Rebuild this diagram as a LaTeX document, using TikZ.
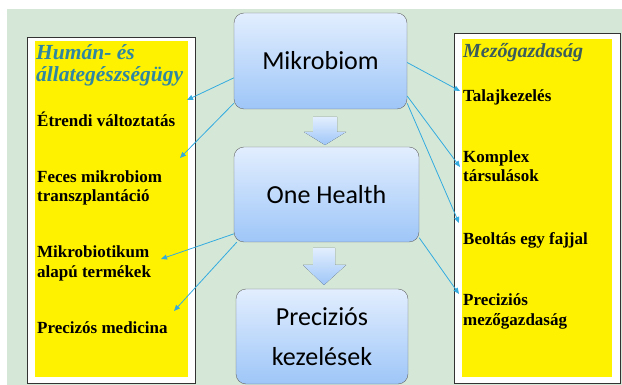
\documentclass[tikz,border=0pt]{standalone}
\usepackage{fontspec}
\setmainfont{Liberation Serif}
\newfontfamily\calfont{Carlito}
\usetikzlibrary{arrows.meta}

\definecolor{bggreen}{HTML}{D5E8D8}
\definecolor{boxtop}{HTML}{E2EEFE}
\definecolor{boxbot}{HTML}{9EC6F8}
\definecolor{linkblue}{HTML}{33ABDF}
\definecolor{titleleft}{HTML}{2F86A2}
\definecolor{titleright}{HTML}{3A5C5C}

\tikzset{
    mainbox/.style={draw=gray!80!black, rounded corners=10pt, top color=boxtop,
        bottom color=boxbot, align=center, inner sep=0pt,
        font=\calfont\fontsize{26}{40}\selectfont},
    link/.style={draw=linkblue, line width=0.8pt, -{Triangle[length=6pt,width=5pt]}},
    item/.style={anchor=base west, align=left, inner sep=0pt,
        font=\bfseries\fontsize{17}{19.5}\selectfont},
    heading/.style={anchor=base west, align=left, inner sep=0pt,
        font=\bfseries\itshape\fontsize{20}{22}\selectfont},
}

\begin{document}
\begin{tikzpicture}[x=1pt, y=-1pt]
    \useasboundingbox (0,0) rectangle (622,385);
    \fill[bggreen] (7,9) rectangle (622,385);

    % side panels
    \draw[black!80, fill=white] (27,37) rectangle (195,383);
    \fill[yellow] (35,41) rectangle (188,377);
    \draw[black!80, fill=white] (454,33) rectangle (620,383);
    \fill[yellow] (462,39) rectangle (612,377);

    % left panel texts (multi-line nodes sit on their last baseline)
    \node[heading, text=titleleft, font=\bfseries\itshape\fontsize{21.5}{22.5}\selectfont]
        (human) at (36,82) {Humán- és\\állategészségügy};
    \node[item] (etrend) at (37,127) {Étrendi változtatás};
    \node[item] (feces) at (37,202) {Feces mikrobiom\\transzplantáció};
    \node[item] (mikrobiot) at (37,277) {Mikrobiotikum\\alapú termékek};
    \node[item] (medicina) at (37,334) {Precizós medicina};

    % right panel texts
    \node[heading, text=titleright] (mezo) at (463,58) {Mezőgazdaság};
    \node[item] (talaj) at (463,102) {Talajkezelés};
    \node[item] (komplex) at (463,182) {Komplex\\társulások};
    \node[item] (beoltas) at (463,245) {Beoltás egy fajjal};
    \node[item] (precmezo) at (463,325) {Preciziós\\mezőgazdaság};

    % down arrows
    \fill[top color=boxtop, bottom color=boxbot] (313,117) -- (337,117) -- (337,132)
        -- (346,132) -- (325,145) -- (304,132) -- (313,132) -- cycle;
    \fill[top color=boxtop, bottom color=boxbot] (313,248) -- (335,248) -- (335,265)
        -- (346,265) -- (324,285) -- (303,265) -- (313,265) -- cycle;

    % main boxes
    \node[mainbox, minimum width=173pt, minimum height=96pt] (mikro) at (320.5,61) {Mikrobiom};
    \node[mainbox, minimum width=185pt, minimum height=95pt] (onehealth) at (326.5,194.5) {One Health};
    \node[mainbox, minimum width=172pt, minimum height=95pt] (precis) at (322,336.5) {Preciziós\\kezelések};

    % arrow ends
    \coordinate (l1) at (187,100);
    \coordinate (l2) at (180,158);
    \coordinate (l3) at (161,259);
    \coordinate (l4) at (174,311);
    \coordinate (r1) at (460,91);
    \coordinate (r2) at (460,167);
    \coordinate (r3) at (459,223);
    \coordinate (r4) at (459,294);

    \draw[link] (mikro.191) -- (l1);
    \draw[link] (mikro.206) -- (l2);
    \draw[link] (onehealth.203) -- (l3);
    \draw[link] (onehealth.208) -- (l4);
    \draw[link] (mikro.359) -- (r1);
    \draw[link] (mikro.338) -- (r2);
    \draw[link] (mikro.334) -- (r3);
    \draw[link] (onehealth.335) -- (r4);
\end{tikzpicture}
\end{document}
